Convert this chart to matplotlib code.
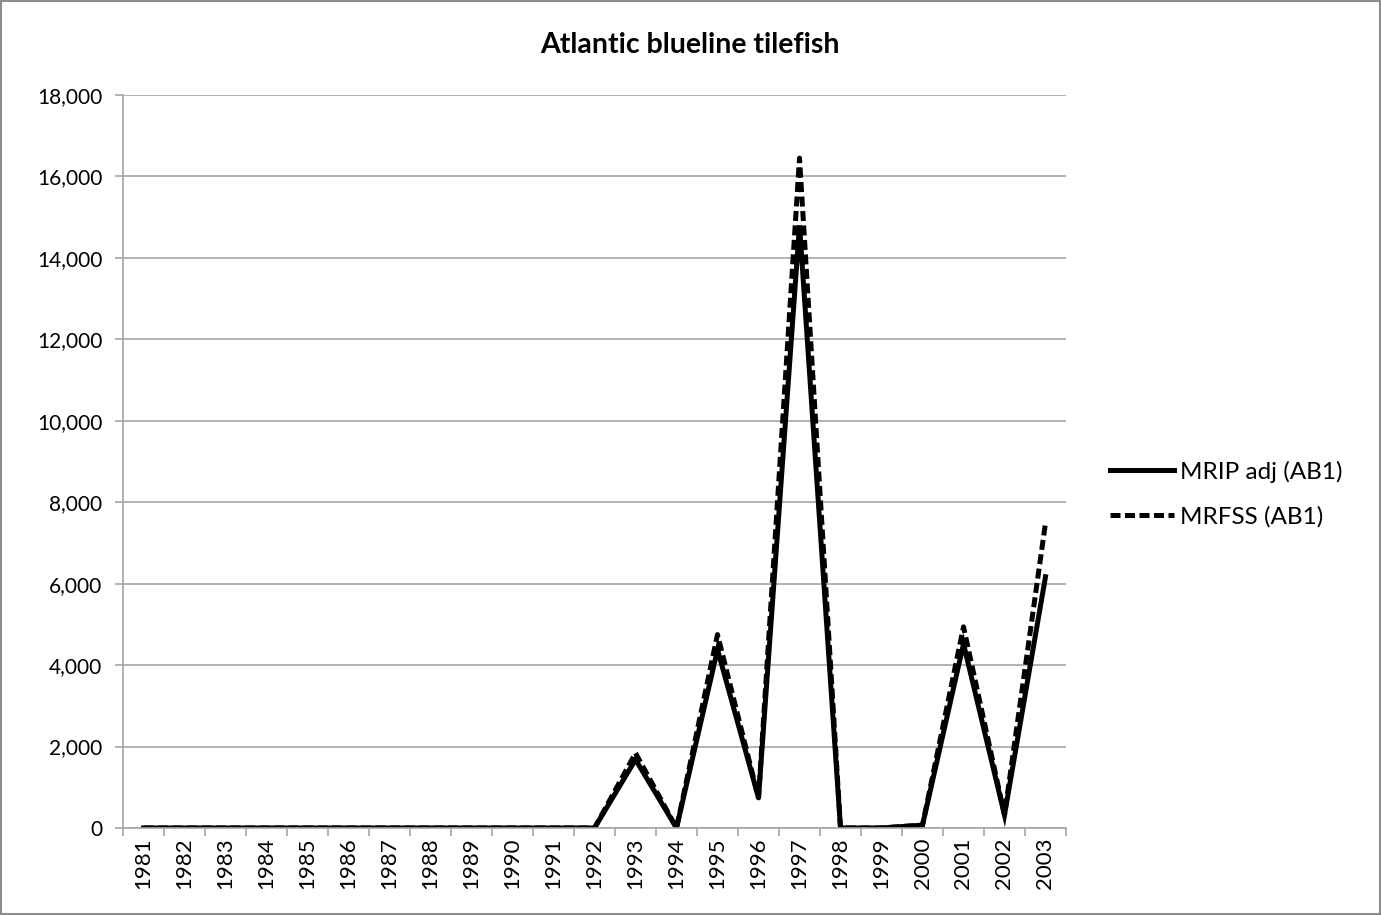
import matplotlib
matplotlib.use("Agg")
import matplotlib.pyplot as plt
from matplotlib.ticker import FuncFormatter, MultipleLocator
from matplotlib.patches import Rectangle

plt.rcParams['font.family'] = ['Lato', 'DejaVu Sans']

years = [str(y) for y in range(1981, 2004)]
mrip_adj = [0, 0, 0, 0, 0, 0, 0, 0, 0, 0, 0, 0, 1680, 0, 4380, 740, 14800, 0, 0, 70, 4520, 320, 6170]
mrfss = [0, 0, 0, 0, 0, 0, 0, 0, 0, 0, 0, 0, 1840, 0, 4750, 740, 16450, 0, 0, 70, 4940, 320, 7490]

fig = plt.figure(figsize=(13.81, 9.15), dpi=100)
ax = fig.add_axes([0.0891, 0.0951, 0.6828, 0.8011])

x = list(range(len(years)))
ax.plot(x, mrip_adj, color='black', lw=3.6, label='MRIP adj (AB1)', solid_joinstyle='miter')
ax.plot(x, mrfss, color='black', lw=3.6, ls=(0, (2.0, 0.9)), label='MRFSS (AB1)')

ax.set_xlim(-0.5, len(years) - 0.5)
ax.set_ylim(0, 18000)
ax.yaxis.set_major_locator(MultipleLocator(2000))
ax.yaxis.set_major_formatter(FuncFormatter(lambda v, p: f"{int(v):,}"))
ax.grid(axis='y', color='#a6a6a6', lw=1.2)
ax.set_axisbelow(True)

ax.set_xticks([i - 0.5 for i in range(len(years) + 1)])
ax.set_xticklabels([])
ax.set_xticks(x, minor=True)
ax.set_xticklabels(years, minor=True, rotation=90, fontsize=16)
ax.tick_params(axis='x', which='minor', length=0, pad=7)
ax.tick_params(axis='x', which='major', length=6, color='#a6a6a6', width=1.2)
ax.tick_params(axis='y', length=6, color='#a6a6a6', width=1.2, labelsize=15, pad=9)
ax.tick_params(axis='y', direction='out')

for s in ['top', 'right']:
    ax.spines[s].set_visible(False)
ax.spines['left'].set_color('#a6a6a6')
ax.spines['bottom'].set_color('#a6a6a6')
ax.spines['left'].set_linewidth(1.2)
ax.spines['bottom'].set_linewidth(1.2)

fig.text(0.4995, 0.951, 'Atlantic blueline tilefish', ha='center', va='center',
         fontsize=20.5, fontweight='bold')

leg = fig.legend(loc='center left', bbox_to_anchor=(0.804, 0.460), frameon=False,
                 fontsize=17.5, handlelength=2.6, handletextpad=0.25, labelspacing=0.95,
                 borderpad=0, borderaxespad=0)

fig.patches.append(Rectangle((0.001, 0.001), 0.998, 0.998, transform=fig.transFigure,
                             fill=False, edgecolor='#8c8c8c', lw=1.5))

fig.savefig('out.png', dpi=100)
